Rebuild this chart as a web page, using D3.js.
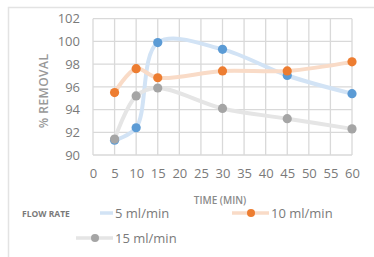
<!DOCTYPE html>
<html lang="en">
<head>
  <meta charset="UTF-8">
  <title>% Removal vs Time</title>
  <script src="https://d3js.org/d3.v7.min.js"></script>
  <style>
    body { margin: 0; background: #fff; }
    text { font-family: "Open Sans", sans-serif; }
  </style>
</head>
<body>
  <div id="chart"></div>
  <script>
    const times = [5, 10, 15, 30, 45, 60];
    const flow5 = [91.3, 92.4, 99.9, 99.3, 97.0, 95.4];
    const flow10 = [95.5, 97.6, 96.8, 97.4, 97.4, 98.2];
    const flow15 = [91.4, 95.2, 95.9, 94.1, 93.2, 92.3];
    const xTicks = d3.range(0, 61, 5);
    const yTicks = [90, 92, 94, 96, 98, 100, 102];
    const seriesNames = ["5 ml/min", "10 ml/min", "15 ml/min"];

    const width = 374, height = 257;
    const svg = d3.select("#chart").append("svg")
      .attr("width", width)
      .attr("height", height);

    // chart frame (cropped)
    svg.append("path")
      .attr("d", "M8.5,257 V7.5 H374")
      .attr("fill", "none")
      .attr("stroke", "#e3e3e3")
      .attr("stroke-width", 1.5);

    const x = d3.scaleLinear().domain([0, 60]).range([93, 352]);
    const y = d3.scaleLinear().domain([90, 102]).range([155, 18.7]);

    const grid = svg.append("g");
    grid.selectAll(".vg").data(xTicks).join("line")
      .attr("x1", d => x(d)).attr("x2", d => x(d))
      .attr("y1", y(102)).attr("y2", y(90))
      .attr("stroke", "#d9d9d9").attr("stroke-width", 1.3);
    grid.selectAll(".hg").data(yTicks).join("line")
      .attr("x1", x(0)).attr("x2", x(60))
      .attr("y1", d => y(d)).attr("y2", d => y(d))
      .attr("stroke", "#d9d9d9").attr("stroke-width", 1.3);

    const yAxis = svg.append("g")
      .attr("transform", `translate(${x(0)},0)`)
      .call(d3.axisLeft(y).tickValues(yTicks).tickSize(0).tickPadding(13));
    yAxis.select(".domain").remove();
    yAxis.selectAll("text").attr("font-size", 13).attr("fill", "#7a7a7a")
      .attr("font-family", "Open Sans, sans-serif");

    const xAxis = svg.append("g")
      .attr("transform", `translate(0,${y(90)})`)
      .call(d3.axisBottom(x).tickValues(xTicks).tickSize(0).tickPadding(14));
    xAxis.select(".domain").remove();
    xAxis.selectAll("text").attr("font-size", 13).attr("fill", "#7a7a7a")
      .attr("font-family", "Open Sans, sans-serif");

    svg.append("text")
      .attr("x", 220).attr("y", 204)
      .attr("text-anchor", "middle")
      .attr("font-size", 10).attr("font-weight", 600)
      .attr("fill", "#8a8a8a")
      .text("TIME (MIN)");

    svg.append("text")
      .attr("transform", `translate(48,${(y(90) + y(102)) / 2 + 4}) rotate(-90)`)
      .attr("text-anchor", "middle")
      .attr("font-size", 12).attr("font-weight", 600)
      .attr("letter-spacing", 0.5)
      .attr("fill", "#999")
      .text("% REMOVAL");

    const lineColors = ["#d2e3f5", "#f9dbc7", "#e5e5e5"];
    const markColors = ["#5b9bd5", "#ed7d31", "#a5a5a5"];
    const allSeries = [flow5, flow10, flow15];

    const line = d3.line()
      .x((d, i) => x(times[i]))
      .y(d => y(d))
      .curve(d3.curveCatmullRom.alpha(0.5));

    allSeries.forEach((vals, s) => {
      const g = svg.append("g");
      g.append("path")
        .attr("d", line(vals))
        .attr("fill", "none")
        .attr("stroke", lineColors[s])
        .attr("stroke-width", 4)
        .attr("stroke-linecap", "round");
      g.selectAll("circle").data(vals).join("circle")
        .attr("cx", (d, i) => x(times[i]))
        .attr("cy", d => y(d))
        .attr("r", 4.6)
        .attr("fill", markColors[s]);
    });

    // legend
    svg.append("text")
      .attr("x", 22).attr("y", 217)
      .attr("font-size", 8.5).attr("font-weight", "bold")
      .attr("fill", "#7a7a7a")
      .text("FLOW RATE");

    const legendPos = [[76, 213], [232, 213], [76, 238]];
    seriesNames.forEach((name, s) => {
      const [lx, ly] = legendPos[s];
      const g = svg.append("g");
      g.append("line")
        .attr("x1", s === 0 ? lx + 24 : lx).attr("x2", lx + 37)
        .attr("y1", ly).attr("y2", ly)
        .attr("stroke", lineColors[s]).attr("stroke-width", 3.5);
      if (s > 0) {
        g.append("circle")
          .attr("cx", lx + 19).attr("cy", ly).attr("r", 4)
          .attr("fill", markColors[s]);
      }
      g.append("text")
        .attr("x", lx + 39).attr("y", ly + 5)
        .attr("font-size", 13).attr("fill", "#7a7a7a")
        .text(name);
    });
  </script>
</body>
</html>
